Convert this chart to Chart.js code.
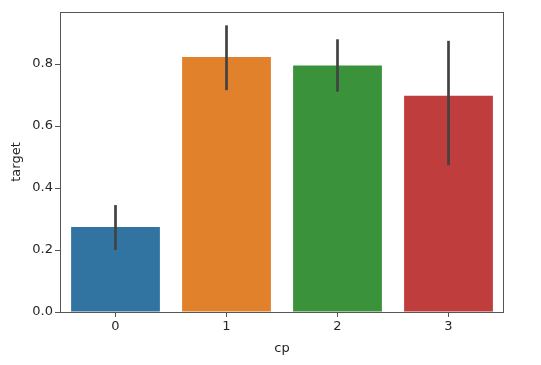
<!DOCTYPE html>
<html>
<head>
<meta charset="utf-8">
<script src="https://cdn.jsdelivr.net/npm/chart.js@4/dist/chart.umd.min.js"></script>
<style>
  html, body { margin: 0; padding: 0; background: #fff; }
  #wrap { width: 541px; height: 365px; position: relative; }
</style>
</head>
<body>
<div id="wrap"><canvas id="cpChart"></canvas></div>
<script>
// cp vs target (mean with confidence interval)
const categories = ['0', '1', '2', '3'];
const targetMean = [0.274, 0.823, 0.795, 0.698];
const ciLow = [0.200, 0.716, 0.711, 0.474];
const ciHigh = [0.345, 0.925, 0.880, 0.875];
const yTicks = [0.0, 0.2, 0.4, 0.6, 0.8];

const barColors = ['#3274a1', '#e1812c', '#3a923a', '#c03d3e'];
const textColor = '#262626';
const tickFont = { family: 'DejaVu Sans', size: 13 };

// draws the CI lines and the box around the axes
const errorBarPlugin = {
    id: 'errorBars',
    afterDatasetsDraw(chart) {
        const ctx = chart.ctx;
        const x = chart.scales.x;
        const y = chart.scales.y;
        ctx.save();
        ctx.strokeStyle = '#424242';
        ctx.lineWidth = 2.7;
        ctx.lineCap = 'butt';
        categories.forEach((c, i) => {
            const px = x.getPixelForValue(i);
            ctx.beginPath();
            ctx.moveTo(px, y.getPixelForValue(ciLow[i]));
            ctx.lineTo(px, y.getPixelForValue(ciHigh[i]));
            ctx.stroke();
        });
        const a = chart.chartArea;
        ctx.strokeStyle = '#555';
        ctx.lineWidth = 1;
        ctx.strokeRect(a.left + 0.5, a.top + 0.5, a.right - a.left - 1, a.bottom - a.top);
        ctx.restore();
    }
};

new Chart(document.getElementById('cpChart'), {
    type: 'bar',
    data: {
        labels: categories,
        datasets: [{
            label: 'target',
            data: targetMean,
            backgroundColor: barColors,
            borderWidth: 0,
            categoryPercentage: 0.8,
            barPercentage: 1.0
        }]
    },
    options: {
        responsive: true,
        maintainAspectRatio: false,
        animation: false,
        devicePixelRatio: 1,
        layout: { padding: { top: 12, right: 37, left: 0, bottom: 0 } },
        plugins: {
            legend: { display: false },
            tooltip: { enabled: false }
        },
        scales: {
            x: {
                grid: { offset: false, drawOnChartArea: false, drawTicks: true, tickLength: 5, color: '#555' },
                border: { display: false },
                ticks: { color: textColor, font: tickFont, padding: 2 },
                title: { display: true, text: 'cp', color: textColor, font: tickFont, padding: { top: 4, bottom: 9 } },
                afterFit(scale) { scale.height = 53; }
            },
            y: {
                min: 0,
                max: 0.968,
                grid: { drawOnChartArea: false, drawTicks: true, tickLength: 5, color: '#555' },
                border: { display: false },
                ticks: {
                    color: textColor,
                    font: tickFont,
                    padding: 2,
                    callback: v => v.toFixed(1)
                },
                afterBuildTicks(scale) {
                    scale.ticks = yTicks.map(v => ({ value: v }));
                },
                title: { display: true, text: 'target', color: textColor, font: tickFont, padding: { top: 9, bottom: 4 } },
                afterFit(scale) { scale.width = 60; }
            }
        }
    },
    plugins: [errorBarPlugin]
});
</script>
</body>
</html>
